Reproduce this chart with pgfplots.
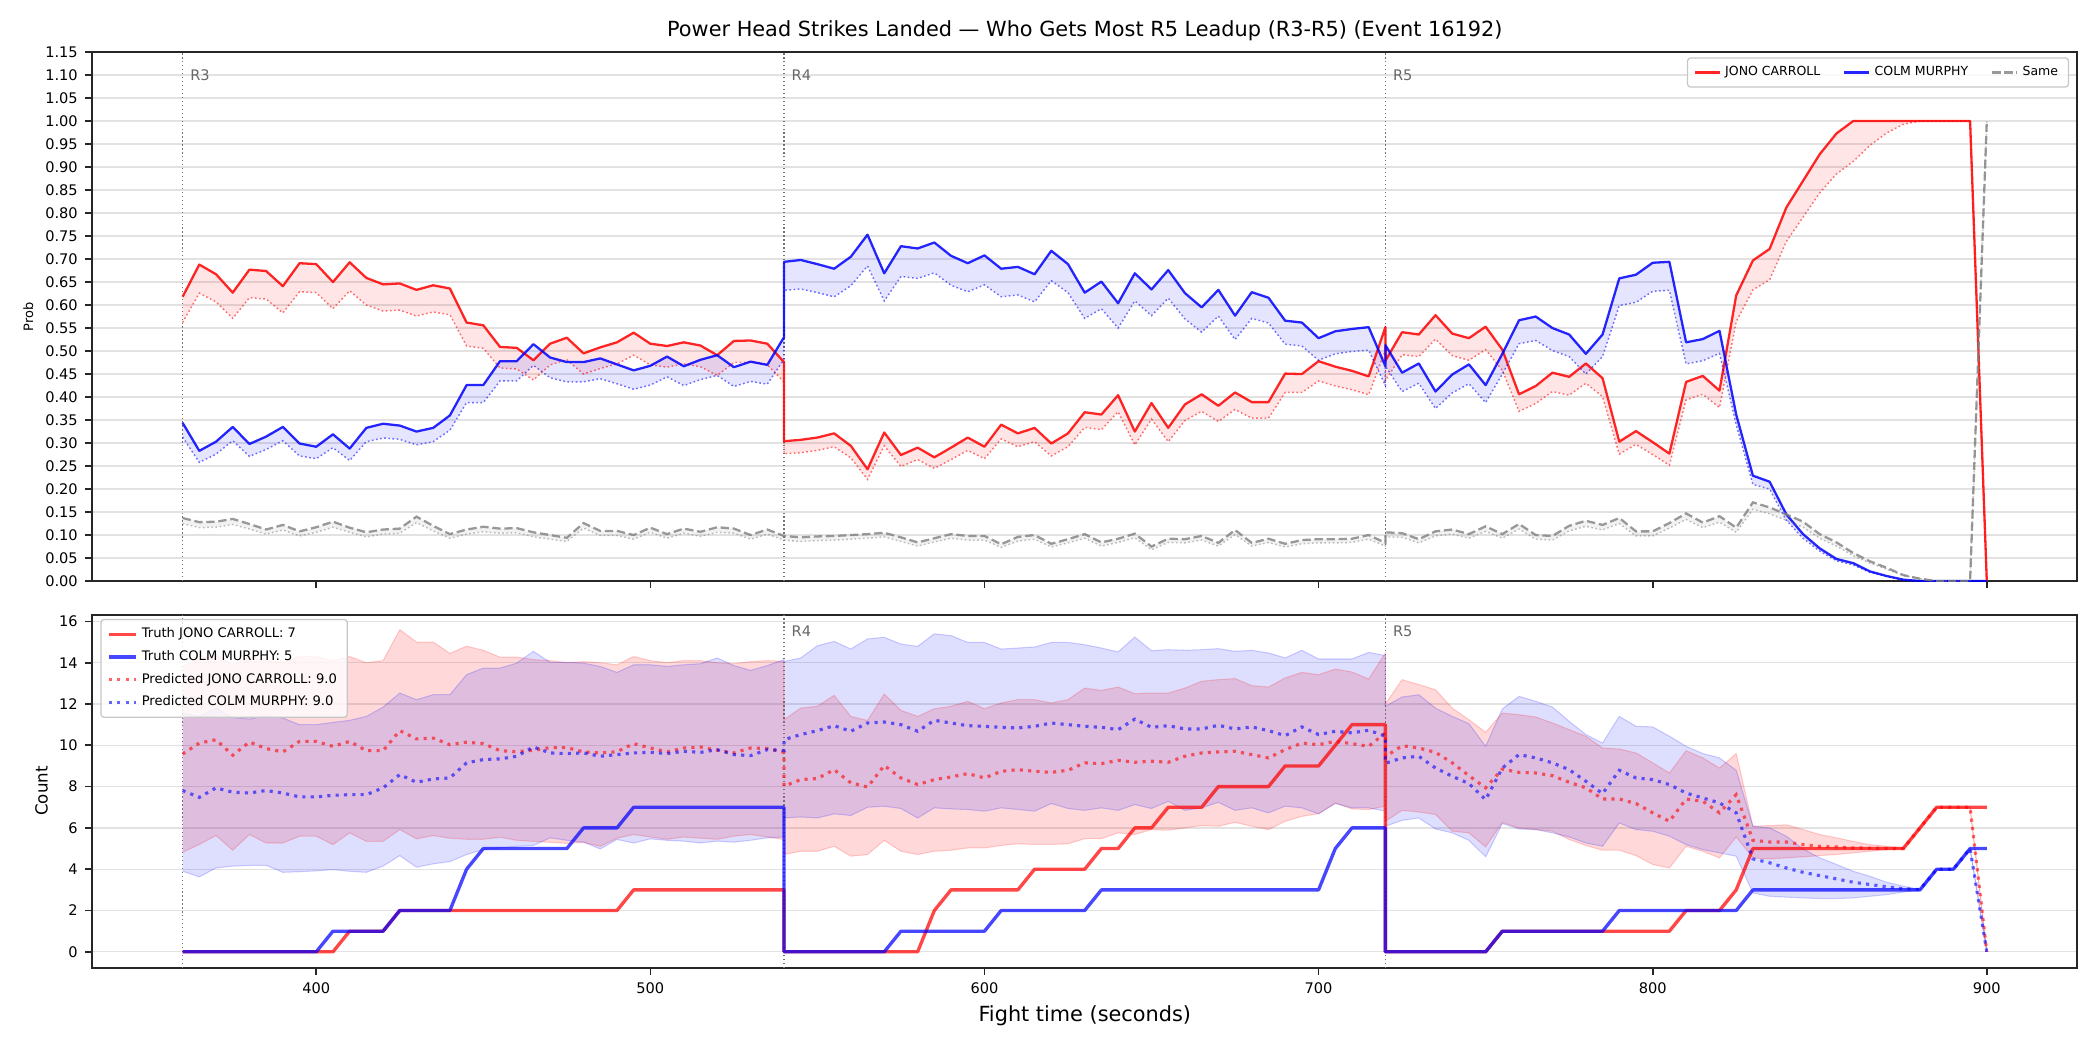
\documentclass[border=0pt]{standalone}
\usepackage{fontspec}
\setmainfont{DejaVu Sans}
\usepackage{pgfplots}
\pgfplotsset{compat=1.18}
\usepackage{pgfplotstable}
\usepgfplotslibrary{fillbetween}

\definecolor{mred}{RGB}{255,0,0}
\definecolor{mblue}{RGB}{0,0,255}
\definecolor{mgray}{RGB}{128,128,128}
\definecolor{gridc}{RGB}{226,226,226}

\pgfplotstableread{
t jc cm sm jcd cmd smd
360 0.618 0.344 0.137 0.562 0.313 0.125
365 0.688 0.283 0.128 0.626 0.258 0.116
370 0.667 0.303 0.129 0.607 0.276 0.117
375 0.627 0.335 0.135 0.571 0.305 0.123
380 0.677 0.298 0.124 0.616 0.271 0.113
385 0.674 0.314 0.112 0.613 0.286 0.102
390 0.641 0.335 0.122 0.583 0.305 0.111
395 0.691 0.299 0.108 0.629 0.272 0.098
400 0.689 0.292 0.117 0.627 0.266 0.106
405 0.650 0.319 0.129 0.592 0.290 0.117
410 0.693 0.288 0.116 0.631 0.262 0.106
415 0.659 0.333 0.106 0.600 0.303 0.096
420 0.645 0.342 0.112 0.587 0.311 0.102
425 0.647 0.338 0.114 0.589 0.308 0.104
430 0.633 0.325 0.140 0.576 0.296 0.127
435 0.643 0.333 0.120 0.585 0.303 0.109
440 0.636 0.360 0.102 0.579 0.328 0.093
445 0.562 0.426 0.112 0.511 0.388 0.102
450 0.556 0.426 0.118 0.506 0.388 0.107
455 0.509 0.478 0.114 0.463 0.435 0.104
460 0.507 0.478 0.115 0.461 0.435 0.105
465 0.480 0.515 0.106 0.437 0.469 0.096
470 0.516 0.486 0.100 0.470 0.442 0.091
475 0.529 0.476 0.094 0.481 0.433 0.086
480 0.495 0.476 0.126 0.450 0.433 0.115
485 0.508 0.484 0.109 0.462 0.440 0.099
490 0.519 0.471 0.109 0.472 0.429 0.099
495 0.540 0.458 0.100 0.491 0.417 0.091
500 0.516 0.468 0.116 0.470 0.426 0.106
505 0.511 0.488 0.102 0.465 0.444 0.093
510 0.519 0.467 0.114 0.472 0.425 0.104
515 0.512 0.481 0.107 0.466 0.438 0.097
520 0.491 0.491 0.117 0.447 0.447 0.106
525 0.522 0.465 0.114 0.475 0.423 0.104
530 0.523 0.477 0.100 0.476 0.434 0.091
535 0.516 0.470 0.112 0.470 0.428 0.102
540 0.476 0.530 0.098 0.433 0.482 0.089
540 0.304 0.694 0.098 0.277 0.632 0.089
545 0.307 0.698 0.095 0.279 0.635 0.086
550 0.312 0.689 0.097 0.284 0.627 0.088
555 0.321 0.679 0.098 0.292 0.618 0.089
560 0.294 0.705 0.100 0.268 0.642 0.091
565 0.243 0.753 0.102 0.221 0.685 0.093
570 0.323 0.669 0.105 0.294 0.609 0.096
575 0.274 0.728 0.095 0.249 0.662 0.086
580 0.290 0.723 0.084 0.264 0.658 0.076
585 0.269 0.736 0.093 0.245 0.670 0.085
590 0.290 0.707 0.102 0.264 0.643 0.093
595 0.312 0.691 0.098 0.284 0.629 0.089
600 0.292 0.708 0.098 0.266 0.644 0.089
605 0.340 0.679 0.080 0.309 0.618 0.073
610 0.321 0.683 0.096 0.292 0.622 0.087
615 0.333 0.667 0.100 0.303 0.607 0.091
620 0.299 0.718 0.081 0.272 0.653 0.074
625 0.321 0.689 0.091 0.292 0.627 0.083
630 0.367 0.627 0.102 0.334 0.571 0.093
635 0.362 0.651 0.084 0.329 0.592 0.076
640 0.404 0.604 0.092 0.368 0.550 0.084
645 0.325 0.669 0.103 0.296 0.609 0.094
650 0.387 0.634 0.075 0.352 0.577 0.068
655 0.333 0.676 0.092 0.303 0.615 0.084
660 0.384 0.626 0.091 0.349 0.570 0.083
665 0.406 0.595 0.098 0.369 0.541 0.089
670 0.381 0.633 0.083 0.347 0.576 0.076
675 0.410 0.577 0.111 0.373 0.525 0.101
680 0.389 0.628 0.083 0.354 0.571 0.076
685 0.389 0.616 0.092 0.354 0.561 0.084
690 0.451 0.566 0.081 0.410 0.515 0.074
695 0.450 0.562 0.089 0.410 0.511 0.081
700 0.478 0.528 0.091 0.435 0.480 0.083
705 0.466 0.543 0.091 0.424 0.494 0.083
710 0.457 0.548 0.092 0.416 0.499 0.084
715 0.445 0.552 0.100 0.405 0.502 0.091
720 0.552 0.467 0.083 0.502 0.425 0.076
720 0.479 0.513 0.106 0.436 0.467 0.096
725 0.541 0.453 0.104 0.492 0.412 0.095
730 0.536 0.473 0.091 0.488 0.430 0.083
735 0.578 0.412 0.108 0.526 0.375 0.098
740 0.538 0.449 0.112 0.490 0.409 0.102
745 0.528 0.471 0.102 0.480 0.429 0.093
750 0.553 0.426 0.119 0.503 0.388 0.108
755 0.503 0.494 0.102 0.458 0.450 0.093
760 0.406 0.567 0.124 0.369 0.516 0.113
765 0.424 0.575 0.100 0.386 0.523 0.091
770 0.453 0.550 0.098 0.412 0.501 0.089
775 0.444 0.536 0.120 0.404 0.488 0.109
780 0.473 0.494 0.131 0.430 0.450 0.119
785 0.441 0.536 0.122 0.401 0.488 0.111
790 0.303 0.658 0.137 0.276 0.599 0.125
795 0.326 0.666 0.108 0.297 0.606 0.098
800 0.302 0.692 0.108 0.275 0.630 0.098
805 0.277 0.694 0.126 0.252 0.632 0.115
810 0.433 0.519 0.147 0.394 0.472 0.134
815 0.446 0.526 0.127 0.406 0.479 0.116
820 0.414 0.544 0.141 0.377 0.495 0.128
825 0.621 0.362 0.116 0.564 0.340 0.106
830 0.697 0.229 0.171 0.633 0.210 0.156
835 0.722 0.216 0.160 0.655 0.200 0.146
840 0.812 0.145 0.145 0.738 0.132 0.132
845 0.870 0.102 0.129 0.791 0.093 0.117
850 0.928 0.071 0.102 0.844 0.065 0.093
855 0.973 0.048 0.084 0.885 0.044 0.076
860 1.000 0.039 0.061 0.912 0.035 0.055
865 1.000 0.021 0.043 0.947 0.019 0.039
870 1.000 0.011 0.029 0.974 0.010 0.026
875 1.000 0.003 0.013 0.993 0.003 0.012
880 1.000 0.000 0.005 1.000 0.000 0.005
885 1.000 0.000 0.000 1.000 0.000 0.000
890 1.000 0.000 0.000 1.000 0.000 0.000
895 1.000 0.000 0.000 1.000 0.000 0.000
900 0.000 0.000 1.000 0.000 0.000 1.000
}\topdata

\pgfplotstableread{
t tj tc pj pc jlo jhi clo chi
360 0 0 9.58 7.81 4.82 13.8 3.90 11.56
365 0 0 10.11 7.48 5.20 14.2 3.63 11.40
370 0 0 10.27 7.94 5.63 14.4 4.06 11.80
375 0 0 9.52 7.73 4.92 13.9 4.15 11.35
380 0 0 10.16 7.69 5.68 14.3 4.18 11.27
385 0 0 9.84 7.81 5.27 14.1 4.19 11.43
390 0 0 9.68 7.69 5.27 14.0 3.85 11.32
395 0 0 10.19 7.50 5.60 14.3 3.88 11.00
400 0 0 10.19 7.50 5.60 14.3 3.92 11.00
405 0 1 9.95 7.58 5.19 14.1 3.98 11.11
410 1 1 10.19 7.61 5.76 14.3 3.90 11.21
415 1 1 9.74 7.61 5.35 14.0 3.85 11.40
420 1 1 9.74 7.94 5.35 14.1 4.15 11.85
425 2 2 10.71 8.58 5.92 15.6 4.66 12.53
430 2 2 10.31 8.21 5.47 15.0 4.10 12.21
435 2 2 10.35 8.37 5.63 15.0 4.26 12.45
440 2 2 10.03 8.42 5.50 14.45 4.37 12.45
445 2 4 10.15 9.15 5.45 14.8 4.71 13.42
450 2 5 10.08 9.31 5.45 14.6 4.95 13.74
455 2 5 9.74 9.34 5.55 14.27 5.03 13.74
460 2 5 9.69 9.47 5.40 14.27 5.11 13.98
465 2 5 9.76 9.92 5.35 14.15 5.15 14.55
470 2 5 9.89 9.63 5.30 14.10 5.52 14.02
475 2 5 9.89 9.60 5.25 14.00 5.40 14.02
480 2 6 9.68 9.63 5.30 14.05 5.31 13.98
485 2 6 9.63 9.47 5.11 14.00 4.98 13.82
490 2 6 9.69 9.55 5.50 13.90 5.44 13.53
495 3 7 10.08 9.63 5.68 14.30 5.27 13.90
500 3 7 9.87 9.66 5.56 14.10 5.47 13.90
505 3 7 9.68 9.60 5.45 14.00 5.40 13.82
510 3 7 9.87 9.71 5.56 14.10 5.36 13.90
515 3 7 9.92 9.66 5.50 14.10 5.27 13.95
520 3 7 9.76 9.79 5.45 14.00 5.36 14.23
525 3 7 9.63 9.55 5.60 13.95 5.31 13.86
530 3 7 9.87 9.50 5.68 14.05 5.40 13.63
535 3 7 9.85 9.79 5.56 14.10 5.52 13.86
540 3 7 9.66 9.75 5.44 14.06 5.56 14.15
540 0 0 8.02 10.27 4.71 11.24 6.48 14.06
545 0 0 8.34 10.52 4.87 11.80 6.53 14.23
550 0 0 8.39 10.71 4.87 11.89 6.48 14.82
555 0 0 8.82 10.95 5.11 12.42 6.68 15.03
560 0 0 8.18 10.68 4.63 11.40 6.60 14.66
565 0 0 7.98 11.08 4.71 11.20 7.00 15.15
570 0 0 9.02 11.13 5.40 12.48 7.05 15.23
575 0 1 8.42 11.00 4.87 11.69 6.94 14.90
580 0 1 8.10 10.68 4.71 11.40 6.48 14.79
585 2 1 8.34 11.21 4.87 11.77 6.97 15.40
590 3 1 8.47 11.08 4.92 11.89 6.92 15.31
595 3 1 8.63 10.95 5.03 12.13 6.89 14.98
600 3 1 8.42 10.92 5.03 11.77 6.81 14.98
605 3 2 8.74 10.87 5.15 12.05 6.97 14.66
610 3 2 8.82 10.84 5.23 12.21 6.89 14.71
615 4 2 8.74 10.92 5.20 12.21 6.81 14.76
620 4 2 8.69 11.08 5.20 12.05 7.18 14.98
625 4 2 8.79 11.00 5.23 12.21 6.94 14.98
630 4 2 9.15 10.92 5.48 12.77 6.85 14.87
635 5 3 9.11 10.87 5.48 12.66 6.97 14.71
640 5 3 9.27 10.76 5.76 12.82 6.85 14.52
645 6 3 9.18 11.27 5.68 12.50 7.13 15.24
650 6 3 9.23 10.87 5.92 12.53 6.94 14.58
655 7 3 9.18 10.95 5.89 12.53 7.29 14.63
660 7 3 9.47 10.79 6.00 12.77 6.85 14.60
665 7 3 9.63 10.79 6.11 13.10 6.97 14.63
670 8 3 9.68 10.97 6.08 13.18 7.24 14.68
675 8 3 9.71 10.79 6.27 13.23 6.85 14.55
680 8 3 9.55 10.89 6.08 12.89 6.97 14.60
685 8 3 9.39 10.71 5.92 12.82 6.73 14.47
690 9 3 9.79 10.47 6.32 13.26 7.05 14.23
695 9 3 10.11 10.89 6.56 13.53 6.97 14.60
700 9 3 10.03 10.52 6.69 13.42 6.68 14.18
705 10 5 10.19 10.68 7.21 13.69 7.18 14.18
710 11 6 10.08 10.60 6.92 13.55 6.97 14.18
715 11 6 9.95 10.73 6.89 13.21 6.97 14.50
720 11 6 10.60 10.44 7.05 14.47 6.81 14.34
720 0 0 9.45 9.13 6.32 12.00 6.08 11.89
725 0 0 9.98 9.39 6.85 13.18 6.37 12.34
730 0 0 9.87 9.47 6.77 12.94 6.48 12.45
735 0 0 9.66 8.90 6.65 12.69 5.95 11.80
740 0 0 9.15 8.50 5.84 11.80 5.76 11.40
745 0 0 8.53 8.15 5.76 11.24 5.40 11.05
750 0 0 7.94 7.37 5.08 10.63 4.60 9.95
755 1 1 8.85 8.90 6.27 11.56 6.21 11.76
760 1 1 8.69 9.55 6.00 11.48 5.95 12.37
765 1 1 8.66 9.39 5.92 11.37 5.92 12.13
770 1 1 8.53 9.15 5.84 11.08 5.76 11.85
775 1 1 8.21 8.82 5.44 10.76 5.56 11.16
780 1 1 7.94 8.26 5.15 10.44 5.27 10.52
785 1 1 7.40 7.66 4.92 9.87 5.11 10.11
790 1 2 7.40 8.79 4.92 9.82 6.24 11.40
795 1 2 7.18 8.42 4.66 9.63 5.92 10.92
800 1 2 6.73 8.34 4.23 9.15 5.84 10.89
805 1 2 6.32 8.10 4.06 8.66 5.60 10.44
810 2 2 7.40 7.69 5.11 9.74 5.19 9.95
815 2 2 7.29 7.45 4.87 9.39 4.95 9.60
820 2 2 6.73 7.21 4.55 8.90 4.79 9.39
825 3 2 7.61 6.73 5.56 9.60 4.63 8.79
830 5 3 5.40 4.50 4.55 6.08 2.85 6.08
835 5 3 5.32 4.31 4.50 6.11 2.69 6.00
840 5 3 5.32 4.06 4.55 6.15 2.65 5.60
845 5 3 5.19 3.85 4.60 5.92 2.61 4.98
850 5 3 5.11 3.69 4.66 5.68 2.58 4.55
855 5 3 5.08 3.53 4.71 5.52 2.58 4.23
860 5 3 5.03 3.37 4.79 5.35 2.61 3.90
865 5 3 5.02 3.26 4.87 5.19 2.69 3.66
870 5 3 5.01 3.15 4.95 5.11 2.77 3.37
875 5 3 5.00 3.05 5.00 5.03 2.89 3.18
880 6 3 6.00 3.02 6.00 6.00 3.00 3.02
885 7 4 7.00 4.00 7.00 7.00 4.00 4.00
890 7 4 7.00 4.00 7.00 7.00 4.00 4.00
895 7 5 7.00 5.00 7.00 7.00 5.00 5.00
900 7 5 0.00 0.00 0.00 0.00 0.00 0.00
}\botdata

\pgfplotsset{
  common/.style={
    scale only axis, anchor=south west,
    width=952.6pt,
    xmin=333, xmax=927,
    tick align=outside, tick pos=left,
    major tick length=3.5pt,
    axis line style={black!85, line width=0.9pt},
    tick style={black!85, line width=0.8pt},
    ymajorgrids, grid style={gridc, line width=0.6pt},
    tick label style={font=\fontsize{7}{8}\selectfont},
    /pgf/number format/assume math mode=true,
    xtick={400,500,600,700,800,900},
    legend cell align=left,
  },
  rline/.style={black!55, line width=0.5pt, dash pattern=on 0.6pt off 1.3pt, forget plot},
}
\tikzset{
  rlab/.style={anchor=west, inner sep=0pt, xshift=3.5pt, text=black!60, font=\fontsize{7}{8}\selectfont},
}

\begin{document}
\begin{tikzpicture}
\path (0,0) rectangle (1008pt,504pt);

% ---------------- top axis ----------------
\begin{axis}[common,
  at={(44.35pt,225.1pt)}, height=253.9pt,
  ymin=0, ymax=1.15,
  ytick={0,0.05,0.10,0.15,0.20,0.25,0.30,0.35,0.40,0.45,0.50,0.55,0.60,0.65,0.70,0.75,0.80,0.85,0.90,0.95,1.00,1.05,1.10,1.15},
  yticklabel style={/pgf/number format/fixed, /pgf/number format/fixed zerofill, /pgf/number format/precision=2},
  xticklabels={},
  legend columns=3,
  legend style={at={(axis description cs:0.996,0.99)}, anchor=north east,
    font=\fontsize{6}{7}\selectfont, draw=black!22, line width=0.6pt, rounded corners=1.5pt,
    fill=white, fill opacity=0.8, draw opacity=1, text opacity=1,
    inner xsep=3pt, inner ysep=2pt,
    /tikz/every even column/.append style={column sep=9pt}},
  legend image code/.code={\draw[#1] (0pt,0pt) -- (12pt,0pt);},
]
\addplot[rline] coordinates {(360,0) (360,1.15)};
\addplot[rline] coordinates {(540,0) (540,1.15)};
\addplot[rline] coordinates {(720,0) (720,1.15)};
\node[rlab] at (axis cs:360,1.10) {R3};
\node[rlab] at (axis cs:540,1.10) {R4};
\node[rlab] at (axis cs:720,1.10) {R5};

\addplot[mred, opacity=0.85, line width=1.1pt, line join=round, name path=jc] table[x=t,y=jc]{\topdata};
\addlegendentry{JONO CARROLL}
\addplot[mred, opacity=0.55, line width=0.7pt, dash pattern=on 0.8pt off 1.2pt, name path=jcd, forget plot] table[x=t,y=jcd]{\topdata};
\addplot[fill=mred, fill opacity=0.1, draw=none, forget plot] fill between[of=jc and jcd];

\addplot[mblue, opacity=0.85, line width=1.1pt, line join=round, name path=cm] table[x=t,y=cm]{\topdata};
\addlegendentry{COLM MURPHY}
\addplot[mblue, opacity=0.55, line width=0.7pt, dash pattern=on 0.8pt off 1.2pt, name path=cmd, forget plot] table[x=t,y=cmd]{\topdata};
\addplot[fill=mblue, fill opacity=0.1, draw=none, forget plot] fill between[of=cm and cmd];

\addplot[mgray, opacity=0.8, line width=1.1pt, dash pattern=on 4pt off 1.8pt, name path=sm] table[x=t,y=sm]{\topdata};
\addlegendentry{Same}
\addplot[mgray, opacity=0.5, line width=0.7pt, dash pattern=on 0.8pt off 1.2pt, name path=smd, forget plot] table[x=t,y=smd]{\topdata};
\addplot[fill=mgray, fill opacity=0.1, draw=none, forget plot] fill between[of=sm and smd];
\end{axis}

% ---------------- bottom axis ----------------
\begin{axis}[common,
  at={(44.35pt,39.4pt)}, height=169.6pt,
  ymin=-0.78, ymax=16.33,
  ytick={0,2,4,6,8,10,12,14,16},
  legend style={at={(axis description cs:0.004,0.988)}, anchor=north west,
    font=\fontsize{6.3}{7.3}\selectfont, draw=black!22, line width=0.6pt, rounded corners=1.5pt,
    fill=white, fill opacity=0.8, draw opacity=1, text opacity=1,
    inner xsep=3pt, inner ysep=2pt, row sep=0.6pt},
  legend image code/.code={\draw[#1] (0pt,0pt) -- (13pt,0pt);},
]
\addplot[rline] coordinates {(360,-0.78) (360,16.33)};
\addplot[rline] coordinates {(540,-0.78) (540,16.33)};
\addplot[rline] coordinates {(720,-0.78) (720,16.33)};
\node[rlab] at (axis cs:540,15.54) {R4};
\node[rlab] at (axis cs:720,15.54) {R5};

\addplot[mred, draw opacity=0.18, line width=0.5pt, name path=jhi, forget plot] table[x=t,y=jhi]{\botdata};
\addplot[mred, draw opacity=0.18, line width=0.5pt, name path=jlo, forget plot] table[x=t,y=jlo]{\botdata};
\addplot[fill=mred, fill opacity=0.15, draw=none, forget plot] fill between[of=jhi and jlo];
\addplot[mblue, draw opacity=0.18, line width=0.5pt, name path=chi, forget plot] table[x=t,y=chi]{\botdata};
\addplot[mblue, draw opacity=0.18, line width=0.5pt, name path=clo, forget plot] table[x=t,y=clo]{\botdata};
\addplot[fill=mblue, fill opacity=0.13, draw=none, forget plot] fill between[of=chi and clo];

\addplot[mred, opacity=0.72, line width=1.6pt, line join=round] table[x=t,y=tj]{\botdata};
\addlegendentry{Truth JONO CARROLL: 7}
\addplot[mblue, opacity=0.72, line width=1.6pt, line join=round] table[x=t,y=tc]{\botdata};
\addlegendentry{Truth COLM MURPHY: 5}
\addplot[mred, opacity=0.6, line width=1.5pt, dash pattern=on 1.5pt off 2.5pt] table[x=t,y=pj]{\botdata};
\addlegendentry{Predicted JONO CARROLL: 9.0}
\addplot[mblue, opacity=0.6, line width=1.5pt, dash pattern=on 1.5pt off 2.5pt] table[x=t,y=pc]{\botdata};
\addlegendentry{Predicted COLM MURPHY: 9.0}
\end{axis}

\node[anchor=base, font=\fontsize{10}{12}\selectfont] at (520.7pt,486.4pt) {Power Head Strikes Landed — Who Gets Most R5 Leadup (R3-R5) (Event 16192)};
\node[anchor=base, font=\fontsize{10}{12}\selectfont] at (520.7pt,13.8pt) {Fight time (seconds)};
\node[rotate=90, font=\fontsize{6.2}{7}\selectfont] at (13.6pt,352pt) {Prob};
\node[rotate=90, font=\fontsize{8}{9}\selectfont] at (20pt,124.3pt) {Count};
\end{tikzpicture}
\end{document}
